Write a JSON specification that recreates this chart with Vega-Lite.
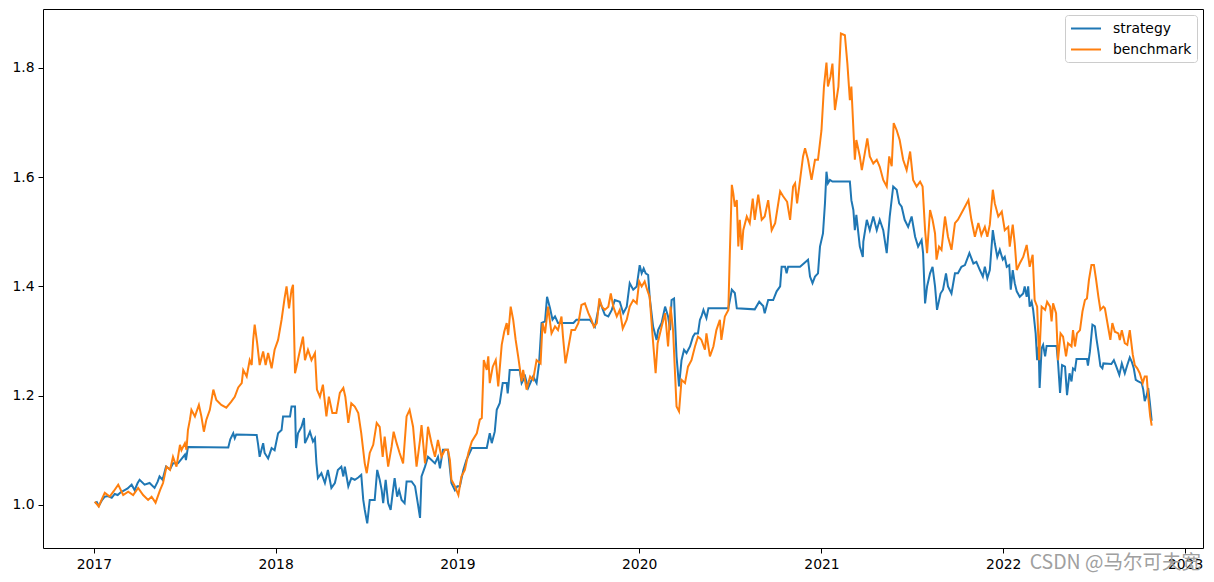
{
  "$schema": "https://vega.github.io/schema/vega-lite/v6.json",
  "width": 1160,
  "height": 539,
  "autosize": {"type": "none"},
  "padding": {"left": 43, "top": 9, "right": 11, "bottom": 34},
  "background": "white",
  "config": {
    "view": {"stroke": "black", "strokeWidth": 1},
    "font": "DejaVu Sans",
    "axis": {"domain": false, "grid": false, "tickColor": "black", "tickSize": 5, "tickWidth": 1, "labelColor": "black", "labelFont": "DejaVu Sans", "labelFontSize": 13.9, "labelPadding": 4, "title": null}
  },
  "title": {"text": "CSDN @马尔可夫宽", "orient": "bottom", "anchor": "end", "frame": "group", "offset": -17, "font": "Noto Sans CJK SC", "fontSize": 19.5, "fontWeight": "normal", "color": "#a0a0a0", "dx": -2},
  "data": {
    "format": {"parse": {"d": "date:'%Y-%j'"}},
    "values": [
{"d":"2017-003","s":"strategy","v":1.003},{"d":"2017-007","s":"strategy","v":1.005},{"d":"2017-011","s":"strategy","v":0.998},{"d":"2017-017","s":"strategy","v":1.008},{"d":"2017-023","s":"strategy","v":1.015},{"d":"2017-029","s":"strategy","v":1.016},{"d":"2017-037","s":"strategy","v":1.013},{"d":"2017-043","s":"strategy","v":1.02},{"d":"2017-049","s":"strategy","v":1.018},{"d":"2017-055","s":"strategy","v":1.023},{"d":"2017-063","s":"strategy","v":1.027},{"d":"2017-069","s":"strategy","v":1.03},{"d":"2017-077","s":"strategy","v":1.037},{"d":"2017-083","s":"strategy","v":1.027},{"d":"2017-089","s":"strategy","v":1.04},{"d":"2017-093","s":"strategy","v":1.046},{"d":"2017-103","s":"strategy","v":1.037},{"d":"2017-113","s":"strategy","v":1.04},{"d":"2017-123","s":"strategy","v":1.031},{"d":"2017-129","s":"strategy","v":1.042},{"d":"2017-133","s":"strategy","v":1.052},{"d":"2017-139","s":"strategy","v":1.046},{"d":"2017-146","s":"strategy","v":1.07},{"d":"2017-154","s":"strategy","v":1.065},{"d":"2017-160","s":"strategy","v":1.076},{"d":"2017-170","s":"strategy","v":1.076},{"d":"2017-178","s":"strategy","v":1.085},{"d":"2017-184","s":"strategy","v":1.092},{"d":"2017-186","s":"strategy","v":1.082},{"d":"2017-190","s":"strategy","v":1.106},{"d":"2017-271","s":"strategy","v":1.105},{"d":"2017-275","s":"strategy","v":1.12},{"d":"2017-281","s":"strategy","v":1.131},{"d":"2017-284","s":"strategy","v":1.122},{"d":"2017-287","s":"strategy","v":1.129},{"d":"2017-328","s":"strategy","v":1.128},{"d":"2017-331","s":"strategy","v":1.11},{"d":"2017-334","s":"strategy","v":1.088},{"d":"2017-341","s":"strategy","v":1.113},{"d":"2017-344","s":"strategy","v":1.095},{"d":"2017-351","s":"strategy","v":1.085},{"d":"2017-358","s":"strategy","v":1.104},{"d":"2017-364","s":"strategy","v":1.1},
{"d":"2018-006","s":"strategy","v":1.131},{"d":"2018-013","s":"strategy","v":1.137},{"d":"2018-016","s":"strategy","v":1.162},{"d":"2018-030","s":"strategy","v":1.162},{"d":"2018-033","s":"strategy","v":1.18},{"d":"2018-040","s":"strategy","v":1.18},{"d":"2018-042","s":"strategy","v":1.104},{"d":"2018-046","s":"strategy","v":1.131},{"d":"2018-053","s":"strategy","v":1.143},{"d":"2018-058","s":"strategy","v":1.159},{"d":"2018-060","s":"strategy","v":1.113},{"d":"2018-066","s":"strategy","v":1.125},{"d":"2018-070","s":"strategy","v":1.134},{"d":"2018-076","s":"strategy","v":1.116},{"d":"2018-080","s":"strategy","v":1.122},{"d":"2018-083","s":"strategy","v":1.076},{"d":"2018-086","s":"strategy","v":1.049},{"d":"2018-093","s":"strategy","v":1.058},{"d":"2018-100","s":"strategy","v":1.04},{"d":"2018-106","s":"strategy","v":1.064},{"d":"2018-113","s":"strategy","v":1.031},{"d":"2018-120","s":"strategy","v":1.04},{"d":"2018-126","s":"strategy","v":1.064},{"d":"2018-133","s":"strategy","v":1.07},{"d":"2018-137","s":"strategy","v":1.052},{"d":"2018-140","s":"strategy","v":1.07},{"d":"2018-147","s":"strategy","v":1.034},{"d":"2018-153","s":"strategy","v":1.049},{"d":"2018-160","s":"strategy","v":1.046},{"d":"2018-167","s":"strategy","v":1.05},{"d":"2018-173","s":"strategy","v":1.055},{"d":"2018-177","s":"strategy","v":1.009},{"d":"2018-180","s":"strategy","v":0.991},{"d":"2018-185","s":"strategy","v":0.966},{"d":"2018-190","s":"strategy","v":1.009},{"d":"2018-200","s":"strategy","v":1.009},{"d":"2018-205","s":"strategy","v":1.064},{"d":"2018-210","s":"strategy","v":1.046},{"d":"2018-214","s":"strategy","v":1.027},{"d":"2018-217","s":"strategy","v":1.003},{"d":"2018-222","s":"strategy","v":1.046},{"d":"2018-227","s":"strategy","v":1.003},{"d":"2018-232","s":"strategy","v":0.991},{"d":"2018-236","s":"strategy","v":1.021},{"d":"2018-240","s":"strategy","v":1.049},{"d":"2018-245","s":"strategy","v":1.015},{"d":"2018-249","s":"strategy","v":1.027},{"d":"2018-254","s":"strategy","v":1.009},{"d":"2018-260","s":"strategy","v":1.003},{"d":"2018-264","s":"strategy","v":1.043},{"d":"2018-274","s":"strategy","v":1.043},{"d":"2018-281","s":"strategy","v":1.034},{"d":"2018-287","s":"strategy","v":1.0},{"d":"2018-291","s":"strategy","v":0.976},{"d":"2018-294","s":"strategy","v":1.052},{"d":"2018-301","s":"strategy","v":1.07},{"d":"2018-307","s":"strategy","v":1.088},{"d":"2018-314","s":"strategy","v":1.082},{"d":"2018-321","s":"strategy","v":1.076},{"d":"2018-327","s":"strategy","v":1.088},{"d":"2018-331","s":"strategy","v":1.067},{"d":"2018-337","s":"strategy","v":1.101},{"d":"2018-347","s":"strategy","v":1.101},{"d":"2018-354","s":"strategy","v":1.04},{"d":"2018-361","s":"strategy","v":1.027},
{"d":"2019-001","s":"strategy","v":1.034},{"d":"2019-006","s":"strategy","v":1.034},{"d":"2019-013","s":"strategy","v":1.064},{"d":"2019-019","s":"strategy","v":1.082},{"d":"2019-030","s":"strategy","v":1.104},{"d":"2019-060","s":"strategy","v":1.104},{"d":"2019-066","s":"strategy","v":1.131},{"d":"2019-070","s":"strategy","v":1.113},{"d":"2019-076","s":"strategy","v":1.134},{"d":"2019-080","s":"strategy","v":1.174},{"d":"2019-086","s":"strategy","v":1.186},{"d":"2019-092","s":"strategy","v":1.223},{"d":"2019-100","s":"strategy","v":1.223},{"d":"2019-102","s":"strategy","v":1.204},{"d":"2019-104","s":"strategy","v":1.223},{"d":"2019-106","s":"strategy","v":1.247},{"d":"2019-126","s":"strategy","v":1.247},{"d":"2019-130","s":"strategy","v":1.223},{"d":"2019-137","s":"strategy","v":1.235},{"d":"2019-143","s":"strategy","v":1.214},{"d":"2019-153","s":"strategy","v":1.235},{"d":"2019-160","s":"strategy","v":1.223},{"d":"2019-165","s":"strategy","v":1.259},{"d":"2019-170","s":"strategy","v":1.333},{"d":"2019-177","s":"strategy","v":1.336},{"d":"2019-181","s":"strategy","v":1.381},{"d":"2019-187","s":"strategy","v":1.36},{"d":"2019-192","s":"strategy","v":1.339},{"d":"2019-197","s":"strategy","v":1.345},{"d":"2019-203","s":"strategy","v":1.333},{"d":"2019-234","s":"strategy","v":1.333},{"d":"2019-240","s":"strategy","v":1.339},{"d":"2019-267","s":"strategy","v":1.339},{"d":"2019-277","s":"strategy","v":1.326},{"d":"2019-287","s":"strategy","v":1.372},{"d":"2019-297","s":"strategy","v":1.348},{"d":"2019-304","s":"strategy","v":1.345},{"d":"2019-311","s":"strategy","v":1.357},{"d":"2019-317","s":"strategy","v":1.375},{"d":"2019-327","s":"strategy","v":1.372},{"d":"2019-334","s":"strategy","v":1.351},{"d":"2019-341","s":"strategy","v":1.363},{"d":"2019-347","s":"strategy","v":1.406},{"d":"2019-354","s":"strategy","v":1.394},{"d":"2019-361","s":"strategy","v":1.4},
{"d":"2020-002","s":"strategy","v":1.439},{"d":"2020-006","s":"strategy","v":1.424},{"d":"2020-010","s":"strategy","v":1.433},{"d":"2020-014","s":"strategy","v":1.424},{"d":"2020-019","s":"strategy","v":1.421},{"d":"2020-022","s":"strategy","v":1.381},{"d":"2020-029","s":"strategy","v":1.326},{"d":"2020-036","s":"strategy","v":1.302},{"d":"2020-039","s":"strategy","v":1.32},{"d":"2020-046","s":"strategy","v":1.333},{"d":"2020-053","s":"strategy","v":1.363},{"d":"2020-059","s":"strategy","v":1.345},{"d":"2020-063","s":"strategy","v":1.32},{"d":"2020-066","s":"strategy","v":1.375},{"d":"2020-071","s":"strategy","v":1.378},{"d":"2020-076","s":"strategy","v":1.272},{"d":"2020-081","s":"strategy","v":1.217},{"d":"2020-086","s":"strategy","v":1.265},{"d":"2020-091","s":"strategy","v":1.284},{"d":"2020-096","s":"strategy","v":1.278},{"d":"2020-103","s":"strategy","v":1.29},{"d":"2020-109","s":"strategy","v":1.308},{"d":"2020-113","s":"strategy","v":1.314},{"d":"2020-119","s":"strategy","v":1.314},{"d":"2020-123","s":"strategy","v":1.339},{"d":"2020-126","s":"strategy","v":1.345},{"d":"2020-130","s":"strategy","v":1.357},{"d":"2020-136","s":"strategy","v":1.342},{"d":"2020-140","s":"strategy","v":1.36},{"d":"2020-180","s":"strategy","v":1.36},{"d":"2020-187","s":"strategy","v":1.394},{"d":"2020-193","s":"strategy","v":1.388},{"d":"2020-197","s":"strategy","v":1.36},{"d":"2020-233","s":"strategy","v":1.358},{"d":"2020-242","s":"strategy","v":1.372},{"d":"2020-250","s":"strategy","v":1.364},{"d":"2020-253","s":"strategy","v":1.351},{"d":"2020-260","s":"strategy","v":1.375},{"d":"2020-270","s":"strategy","v":1.375},{"d":"2020-277","s":"strategy","v":1.391},{"d":"2020-284","s":"strategy","v":1.4},{"d":"2020-287","s":"strategy","v":1.436},{"d":"2020-294","s":"strategy","v":1.436},{"d":"2020-297","s":"strategy","v":1.424},{"d":"2020-300","s":"strategy","v":1.436},{"d":"2020-324","s":"strategy","v":1.436},{"d":"2020-340","s":"strategy","v":1.449},{"d":"2020-344","s":"strategy","v":1.418},{"d":"2020-349","s":"strategy","v":1.406},{"d":"2020-354","s":"strategy","v":1.418},{"d":"2020-360","s":"strategy","v":1.424},{"d":"2020-364","s":"strategy","v":1.473},
{"d":"2021-004","s":"strategy","v":1.497},{"d":"2021-008","s":"strategy","v":1.552},{"d":"2021-011","s":"strategy","v":1.61},{"d":"2021-014","s":"strategy","v":1.589},{"d":"2021-018","s":"strategy","v":1.595},{"d":"2021-023","s":"strategy","v":1.592},{"d":"2021-058","s":"strategy","v":1.592},{"d":"2021-061","s":"strategy","v":1.558},{"d":"2021-065","s":"strategy","v":1.54},{"d":"2021-068","s":"strategy","v":1.503},{"d":"2021-071","s":"strategy","v":1.531},{"d":"2021-078","s":"strategy","v":1.473},{"d":"2021-084","s":"strategy","v":1.454},{"d":"2021-085","s":"strategy","v":1.482},{"d":"2021-092","s":"strategy","v":1.522},{"d":"2021-098","s":"strategy","v":1.503},{"d":"2021-105","s":"strategy","v":1.528},{"d":"2021-112","s":"strategy","v":1.503},{"d":"2021-118","s":"strategy","v":1.522},{"d":"2021-125","s":"strategy","v":1.503},{"d":"2021-132","s":"strategy","v":1.461},{"d":"2021-138","s":"strategy","v":1.528},{"d":"2021-145","s":"strategy","v":1.583},{"d":"2021-152","s":"strategy","v":1.577},{"d":"2021-157","s":"strategy","v":1.552},{"d":"2021-162","s":"strategy","v":1.546},{"d":"2021-168","s":"strategy","v":1.522},{"d":"2021-175","s":"strategy","v":1.509},{"d":"2021-182","s":"strategy","v":1.528},{"d":"2021-189","s":"strategy","v":1.491},{"d":"2021-195","s":"strategy","v":1.473},{"d":"2021-202","s":"strategy","v":1.485},{"d":"2021-205","s":"strategy","v":1.461},{"d":"2021-209","s":"strategy","v":1.369},{"d":"2021-213","s":"strategy","v":1.4},{"d":"2021-219","s":"strategy","v":1.424},{"d":"2021-224","s":"strategy","v":1.436},{"d":"2021-229","s":"strategy","v":1.4},{"d":"2021-233","s":"strategy","v":1.357},{"d":"2021-240","s":"strategy","v":1.387},{"d":"2021-245","s":"strategy","v":1.394},{"d":"2021-251","s":"strategy","v":1.424},{"d":"2021-255","s":"strategy","v":1.4},{"d":"2021-262","s":"strategy","v":1.387},{"d":"2021-269","s":"strategy","v":1.424},{"d":"2021-275","s":"strategy","v":1.424},{"d":"2021-282","s":"strategy","v":1.436},{"d":"2021-289","s":"strategy","v":1.439},{"d":"2021-298","s":"strategy","v":1.461},{"d":"2021-306","s":"strategy","v":1.442},{"d":"2021-312","s":"strategy","v":1.445},{"d":"2021-319","s":"strategy","v":1.43},{"d":"2021-325","s":"strategy","v":1.418},{"d":"2021-329","s":"strategy","v":1.436},{"d":"2021-334","s":"strategy","v":1.415},{"d":"2021-339","s":"strategy","v":1.43},{"d":"2021-345","s":"strategy","v":1.503},{"d":"2021-349","s":"strategy","v":1.479},{"d":"2021-354","s":"strategy","v":1.454},{"d":"2021-359","s":"strategy","v":1.467},{"d":"2021-365","s":"strategy","v":1.449},
{"d":"2022-004","s":"strategy","v":1.454},{"d":"2022-008","s":"strategy","v":1.436},{"d":"2022-013","s":"strategy","v":1.439},{"d":"2022-016","s":"strategy","v":1.394},{"d":"2022-020","s":"strategy","v":1.43},{"d":"2022-024","s":"strategy","v":1.406},{"d":"2022-028","s":"strategy","v":1.391},{"d":"2022-034","s":"strategy","v":1.381},{"d":"2022-041","s":"strategy","v":1.387},{"d":"2022-044","s":"strategy","v":1.4},{"d":"2022-048","s":"strategy","v":1.381},{"d":"2022-051","s":"strategy","v":1.4},{"d":"2022-054","s":"strategy","v":1.363},{"d":"2022-058","s":"strategy","v":1.372},{"d":"2022-061","s":"strategy","v":1.357},{"d":"2022-066","s":"strategy","v":1.314},{"d":"2022-069","s":"strategy","v":1.265},{"d":"2022-072","s":"strategy","v":1.29},{"d":"2022-074","s":"strategy","v":1.214},{"d":"2022-078","s":"strategy","v":1.287},{"d":"2022-081","s":"strategy","v":1.293},{"d":"2022-085","s":"strategy","v":1.272},{"d":"2022-088","s":"strategy","v":1.291},{"d":"2022-108","s":"strategy","v":1.291},{"d":"2022-111","s":"strategy","v":1.26},{"d":"2022-115","s":"strategy","v":1.205},{"d":"2022-119","s":"strategy","v":1.256},{"d":"2022-125","s":"strategy","v":1.253},{"d":"2022-129","s":"strategy","v":1.201},{"d":"2022-134","s":"strategy","v":1.241},{"d":"2022-138","s":"strategy","v":1.226},{"d":"2022-141","s":"strategy","v":1.25},{"d":"2022-145","s":"strategy","v":1.247},{"d":"2022-148","s":"strategy","v":1.267},{"d":"2022-169","s":"strategy","v":1.267},{"d":"2022-171","s":"strategy","v":1.255},{"d":"2022-175","s":"strategy","v":1.281},{"d":"2022-180","s":"strategy","v":1.33},{"d":"2022-185","s":"strategy","v":1.327},{"d":"2022-188","s":"strategy","v":1.305},{"d":"2022-192","s":"strategy","v":1.281},{"d":"2022-196","s":"strategy","v":1.254},{"d":"2022-200","s":"strategy","v":1.25},{"d":"2022-202","s":"strategy","v":1.259},{"d":"2022-218","s":"strategy","v":1.258},{"d":"2022-223","s":"strategy","v":1.265},{"d":"2022-228","s":"strategy","v":1.253},{"d":"2022-234","s":"strategy","v":1.238},{"d":"2022-239","s":"strategy","v":1.259},{"d":"2022-245","s":"strategy","v":1.241},{"d":"2022-250","s":"strategy","v":1.256},{"d":"2022-255","s":"strategy","v":1.27},{"d":"2022-259","s":"strategy","v":1.262},{"d":"2022-263","s":"strategy","v":1.25},{"d":"2022-267","s":"strategy","v":1.229},{"d":"2022-272","s":"strategy","v":1.226},{"d":"2022-279","s":"strategy","v":1.223},{"d":"2022-282","s":"strategy","v":1.211},{"d":"2022-285","s":"strategy","v":1.19},{"d":"2022-289","s":"strategy","v":1.201},{"d":"2022-292","s":"strategy","v":1.214},{"d":"2022-295","s":"strategy","v":1.19},{"d":"2022-299","s":"strategy","v":1.154},
{"d":"2017-003","s":"benchmark","v":1.006},{"d":"2017-011","s":"benchmark","v":0.997},{"d":"2017-017","s":"benchmark","v":1.01},{"d":"2017-023","s":"benchmark","v":1.022},{"d":"2017-033","s":"benchmark","v":1.015},{"d":"2017-041","s":"benchmark","v":1.025},{"d":"2017-050","s":"benchmark","v":1.037},{"d":"2017-060","s":"benchmark","v":1.018},{"d":"2017-070","s":"benchmark","v":1.024},{"d":"2017-080","s":"benchmark","v":1.018},{"d":"2017-090","s":"benchmark","v":1.031},{"d":"2017-100","s":"benchmark","v":1.018},{"d":"2017-110","s":"benchmark","v":1.009},{"d":"2017-117","s":"benchmark","v":1.015},{"d":"2017-125","s":"benchmark","v":1.004},{"d":"2017-134","s":"benchmark","v":1.027},{"d":"2017-140","s":"benchmark","v":1.04},{"d":"2017-147","s":"benchmark","v":1.07},{"d":"2017-154","s":"benchmark","v":1.064},{"d":"2017-160","s":"benchmark","v":1.088},{"d":"2017-167","s":"benchmark","v":1.07},{"d":"2017-174","s":"benchmark","v":1.11},{"d":"2017-177","s":"benchmark","v":1.1},{"d":"2017-184","s":"benchmark","v":1.113},{"d":"2017-187","s":"benchmark","v":1.101},{"d":"2017-190","s":"benchmark","v":1.137},{"d":"2017-194","s":"benchmark","v":1.156},{"d":"2017-197","s":"benchmark","v":1.174},{"d":"2017-204","s":"benchmark","v":1.162},{"d":"2017-212","s":"benchmark","v":1.183},{"d":"2017-217","s":"benchmark","v":1.162},{"d":"2017-222","s":"benchmark","v":1.134},{"d":"2017-227","s":"benchmark","v":1.156},{"d":"2017-234","s":"benchmark","v":1.174},{"d":"2017-241","s":"benchmark","v":1.211},{"d":"2017-247","s":"benchmark","v":1.192},{"d":"2017-257","s":"benchmark","v":1.183},{"d":"2017-267","s":"benchmark","v":1.178},{"d":"2017-277","s":"benchmark","v":1.189},{"d":"2017-284","s":"benchmark","v":1.198},{"d":"2017-291","s":"benchmark","v":1.215},{"d":"2017-298","s":"benchmark","v":1.223},{"d":"2017-301","s":"benchmark","v":1.247},{"d":"2017-308","s":"benchmark","v":1.235},{"d":"2017-314","s":"benchmark","v":1.265},{"d":"2017-318","s":"benchmark","v":1.256},{"d":"2017-321","s":"benchmark","v":1.302},{"d":"2017-324","s":"benchmark","v":1.33},{"d":"2017-329","s":"benchmark","v":1.296},{"d":"2017-334","s":"benchmark","v":1.256},{"d":"2017-341","s":"benchmark","v":1.281},{"d":"2017-346","s":"benchmark","v":1.256},{"d":"2017-351","s":"benchmark","v":1.278},{"d":"2017-358","s":"benchmark","v":1.25},{"d":"2017-364","s":"benchmark","v":1.284},
{"d":"2018-006","s":"benchmark","v":1.302},{"d":"2018-013","s":"benchmark","v":1.339},{"d":"2018-019","s":"benchmark","v":1.378},{"d":"2018-023","s":"benchmark","v":1.4},{"d":"2018-028","s":"benchmark","v":1.36},{"d":"2018-033","s":"benchmark","v":1.394},{"d":"2018-036","s":"benchmark","v":1.403},{"d":"2018-040","s":"benchmark","v":1.241},{"d":"2018-043","s":"benchmark","v":1.253},{"d":"2018-048","s":"benchmark","v":1.275},{"d":"2018-056","s":"benchmark","v":1.308},{"d":"2018-060","s":"benchmark","v":1.265},{"d":"2018-066","s":"benchmark","v":1.284},{"d":"2018-073","s":"benchmark","v":1.265},{"d":"2018-080","s":"benchmark","v":1.278},{"d":"2018-084","s":"benchmark","v":1.211},{"d":"2018-090","s":"benchmark","v":1.198},{"d":"2018-096","s":"benchmark","v":1.22},{"d":"2018-103","s":"benchmark","v":1.162},{"d":"2018-108","s":"benchmark","v":1.198},{"d":"2018-115","s":"benchmark","v":1.168},{"d":"2018-123","s":"benchmark","v":1.168},{"d":"2018-130","s":"benchmark","v":1.205},{"d":"2018-137","s":"benchmark","v":1.214},{"d":"2018-141","s":"benchmark","v":1.198},{"d":"2018-147","s":"benchmark","v":1.15},{"d":"2018-153","s":"benchmark","v":1.186},{"d":"2018-160","s":"benchmark","v":1.18},{"d":"2018-167","s":"benchmark","v":1.168},{"d":"2018-173","s":"benchmark","v":1.131},{"d":"2018-180","s":"benchmark","v":1.076},{"d":"2018-184","s":"benchmark","v":1.058},{"d":"2018-190","s":"benchmark","v":1.095},{"d":"2018-197","s":"benchmark","v":1.11},{"d":"2018-204","s":"benchmark","v":1.15},{"d":"2018-210","s":"benchmark","v":1.143},{"d":"2018-216","s":"benchmark","v":1.088},{"d":"2018-220","s":"benchmark","v":1.125},{"d":"2018-227","s":"benchmark","v":1.07},{"d":"2018-234","s":"benchmark","v":1.107},{"d":"2018-238","s":"benchmark","v":1.134},{"d":"2018-244","s":"benchmark","v":1.113},{"d":"2018-250","s":"benchmark","v":1.095},{"d":"2018-257","s":"benchmark","v":1.076},{"d":"2018-264","s":"benchmark","v":1.162},{"d":"2018-270","s":"benchmark","v":1.174},{"d":"2018-277","s":"benchmark","v":1.143},{"d":"2018-284","s":"benchmark","v":1.07},{"d":"2018-291","s":"benchmark","v":1.119},{"d":"2018-294","s":"benchmark","v":1.146},{"d":"2018-301","s":"benchmark","v":1.076},{"d":"2018-307","s":"benchmark","v":1.143},{"d":"2018-314","s":"benchmark","v":1.113},{"d":"2018-321","s":"benchmark","v":1.088},{"d":"2018-327","s":"benchmark","v":1.119},{"d":"2018-334","s":"benchmark","v":1.088},{"d":"2018-341","s":"benchmark","v":1.101},{"d":"2018-347","s":"benchmark","v":1.101},{"d":"2018-351","s":"benchmark","v":1.082},{"d":"2018-354","s":"benchmark","v":1.046},{"d":"2018-361","s":"benchmark","v":1.034},
{"d":"2019-003","s":"benchmark","v":1.018},{"d":"2019-009","s":"benchmark","v":1.052},{"d":"2019-016","s":"benchmark","v":1.064},{"d":"2019-023","s":"benchmark","v":1.095},{"d":"2019-030","s":"benchmark","v":1.116},{"d":"2019-040","s":"benchmark","v":1.131},{"d":"2019-046","s":"benchmark","v":1.156},{"d":"2019-050","s":"benchmark","v":1.159},{"d":"2019-054","s":"benchmark","v":1.265},{"d":"2019-060","s":"benchmark","v":1.247},{"d":"2019-063","s":"benchmark","v":1.272},{"d":"2019-066","s":"benchmark","v":1.223},{"d":"2019-072","s":"benchmark","v":1.253},{"d":"2019-078","s":"benchmark","v":1.265},{"d":"2019-083","s":"benchmark","v":1.217},{"d":"2019-090","s":"benchmark","v":1.293},{"d":"2019-095","s":"benchmark","v":1.317},{"d":"2019-100","s":"benchmark","v":1.333},{"d":"2019-103","s":"benchmark","v":1.311},{"d":"2019-108","s":"benchmark","v":1.363},{"d":"2019-113","s":"benchmark","v":1.339},{"d":"2019-118","s":"benchmark","v":1.302},{"d":"2019-123","s":"benchmark","v":1.272},{"d":"2019-130","s":"benchmark","v":1.226},{"d":"2019-133","s":"benchmark","v":1.247},{"d":"2019-140","s":"benchmark","v":1.211},{"d":"2019-147","s":"benchmark","v":1.235},{"d":"2019-153","s":"benchmark","v":1.229},{"d":"2019-160","s":"benchmark","v":1.265},{"d":"2019-168","s":"benchmark","v":1.259},{"d":"2019-172","s":"benchmark","v":1.333},{"d":"2019-177","s":"benchmark","v":1.314},{"d":"2019-183","s":"benchmark","v":1.363},{"d":"2019-190","s":"benchmark","v":1.314},{"d":"2019-197","s":"benchmark","v":1.327},{"d":"2019-203","s":"benchmark","v":1.32},{"d":"2019-210","s":"benchmark","v":1.345},{"d":"2019-213","s":"benchmark","v":1.308},{"d":"2019-218","s":"benchmark","v":1.259},{"d":"2019-223","s":"benchmark","v":1.284},{"d":"2019-230","s":"benchmark","v":1.32},{"d":"2019-237","s":"benchmark","v":1.32},{"d":"2019-244","s":"benchmark","v":1.333},{"d":"2019-250","s":"benchmark","v":1.366},{"d":"2019-257","s":"benchmark","v":1.369},{"d":"2019-264","s":"benchmark","v":1.351},{"d":"2019-270","s":"benchmark","v":1.339},{"d":"2019-275","s":"benchmark","v":1.326},{"d":"2019-281","s":"benchmark","v":1.333},{"d":"2019-286","s":"benchmark","v":1.378},{"d":"2019-291","s":"benchmark","v":1.363},{"d":"2019-297","s":"benchmark","v":1.357},{"d":"2019-304","s":"benchmark","v":1.363},{"d":"2019-309","s":"benchmark","v":1.387},{"d":"2019-314","s":"benchmark","v":1.363},{"d":"2019-321","s":"benchmark","v":1.345},{"d":"2019-327","s":"benchmark","v":1.357},{"d":"2019-333","s":"benchmark","v":1.323},{"d":"2019-341","s":"benchmark","v":1.339},{"d":"2019-347","s":"benchmark","v":1.363},{"d":"2019-354","s":"benchmark","v":1.375},{"d":"2019-361","s":"benchmark","v":1.369},
{"d":"2020-001","s":"benchmark","v":1.409},{"d":"2020-006","s":"benchmark","v":1.4},{"d":"2020-012","s":"benchmark","v":1.409},{"d":"2020-017","s":"benchmark","v":1.394},{"d":"2020-022","s":"benchmark","v":1.381},{"d":"2020-028","s":"benchmark","v":1.308},{"d":"2020-034","s":"benchmark","v":1.241},{"d":"2020-038","s":"benchmark","v":1.296},{"d":"2020-046","s":"benchmark","v":1.326},{"d":"2020-053","s":"benchmark","v":1.351},{"d":"2020-059","s":"benchmark","v":1.29},{"d":"2020-064","s":"benchmark","v":1.363},{"d":"2020-069","s":"benchmark","v":1.32},{"d":"2020-076","s":"benchmark","v":1.18},{"d":"2020-081","s":"benchmark","v":1.171},{"d":"2020-086","s":"benchmark","v":1.229},{"d":"2020-093","s":"benchmark","v":1.223},{"d":"2020-099","s":"benchmark","v":1.253},{"d":"2020-106","s":"benchmark","v":1.265},{"d":"2020-113","s":"benchmark","v":1.29},{"d":"2020-119","s":"benchmark","v":1.308},{"d":"2020-123","s":"benchmark","v":1.305},{"d":"2020-126","s":"benchmark","v":1.302},{"d":"2020-133","s":"benchmark","v":1.284},{"d":"2020-136","s":"benchmark","v":1.314},{"d":"2020-143","s":"benchmark","v":1.272},{"d":"2020-150","s":"benchmark","v":1.29},{"d":"2020-156","s":"benchmark","v":1.32},{"d":"2020-163","s":"benchmark","v":1.339},{"d":"2020-166","s":"benchmark","v":1.302},{"d":"2020-173","s":"benchmark","v":1.345},{"d":"2020-180","s":"benchmark","v":1.357},{"d":"2020-183","s":"benchmark","v":1.461},{"d":"2020-187","s":"benchmark","v":1.586},{"d":"2020-190","s":"benchmark","v":1.57},{"d":"2020-193","s":"benchmark","v":1.546},{"d":"2020-197","s":"benchmark","v":1.558},{"d":"2020-200","s":"benchmark","v":1.473},{"d":"2020-203","s":"benchmark","v":1.522},{"d":"2020-207","s":"benchmark","v":1.467},{"d":"2020-210","s":"benchmark","v":1.503},{"d":"2020-217","s":"benchmark","v":1.528},{"d":"2020-223","s":"benchmark","v":1.516},{"d":"2020-229","s":"benchmark","v":1.561},{"d":"2020-233","s":"benchmark","v":1.522},{"d":"2020-240","s":"benchmark","v":1.568},{"d":"2020-247","s":"benchmark","v":1.522},{"d":"2020-253","s":"benchmark","v":1.528},{"d":"2020-260","s":"benchmark","v":1.558},{"d":"2020-267","s":"benchmark","v":1.503},{"d":"2020-274","s":"benchmark","v":1.516},{"d":"2020-284","s":"benchmark","v":1.574},{"d":"2020-290","s":"benchmark","v":1.565},{"d":"2020-298","s":"benchmark","v":1.555},{"d":"2020-304","s":"benchmark","v":1.522},{"d":"2020-310","s":"benchmark","v":1.583},{"d":"2020-314","s":"benchmark","v":1.589},{"d":"2020-318","s":"benchmark","v":1.552},{"d":"2020-324","s":"benchmark","v":1.595},{"d":"2020-330","s":"benchmark","v":1.638},{"d":"2020-334","s":"benchmark","v":1.653},{"d":"2020-340","s":"benchmark","v":1.632},{"d":"2020-347","s":"benchmark","v":1.595},{"d":"2020-354","s":"benchmark","v":1.632},{"d":"2020-360","s":"benchmark","v":1.632},
{"d":"2021-001","s":"benchmark","v":1.686},{"d":"2021-006","s":"benchmark","v":1.766},{"d":"2021-011","s":"benchmark","v":1.81},{"d":"2021-014","s":"benchmark","v":1.766},{"d":"2021-019","s":"benchmark","v":1.784},{"d":"2021-023","s":"benchmark","v":1.808},{"d":"2021-028","s":"benchmark","v":1.723},{"d":"2021-035","s":"benchmark","v":1.766},{"d":"2021-040","s":"benchmark","v":1.863},{"d":"2021-048","s":"benchmark","v":1.86},{"d":"2021-053","s":"benchmark","v":1.808},{"d":"2021-058","s":"benchmark","v":1.741},{"d":"2021-061","s":"benchmark","v":1.766},{"d":"2021-068","s":"benchmark","v":1.632},{"d":"2021-071","s":"benchmark","v":1.668},{"d":"2021-078","s":"benchmark","v":1.638},{"d":"2021-082","s":"benchmark","v":1.613},{"d":"2021-088","s":"benchmark","v":1.644},{"d":"2021-093","s":"benchmark","v":1.671},{"d":"2021-098","s":"benchmark","v":1.638},{"d":"2021-105","s":"benchmark","v":1.625},{"d":"2021-112","s":"benchmark","v":1.632},{"d":"2021-118","s":"benchmark","v":1.619},{"d":"2021-125","s":"benchmark","v":1.595},{"d":"2021-132","s":"benchmark","v":1.583},{"d":"2021-137","s":"benchmark","v":1.638},{"d":"2021-142","s":"benchmark","v":1.62},{"d":"2021-146","s":"benchmark","v":1.699},{"d":"2021-152","s":"benchmark","v":1.686},{"d":"2021-158","s":"benchmark","v":1.668},{"d":"2021-165","s":"benchmark","v":1.632},{"d":"2021-172","s":"benchmark","v":1.613},{"d":"2021-179","s":"benchmark","v":1.647},{"d":"2021-185","s":"benchmark","v":1.595},{"d":"2021-192","s":"benchmark","v":1.583},{"d":"2021-199","s":"benchmark","v":1.592},{"d":"2021-204","s":"benchmark","v":1.583},{"d":"2021-209","s":"benchmark","v":1.503},{"d":"2021-213","s":"benchmark","v":1.461},{"d":"2021-219","s":"benchmark","v":1.54},{"d":"2021-224","s":"benchmark","v":1.522},{"d":"2021-229","s":"benchmark","v":1.497},{"d":"2021-232","s":"benchmark","v":1.449},{"d":"2021-237","s":"benchmark","v":1.473},{"d":"2021-242","s":"benchmark","v":1.467},{"d":"2021-249","s":"benchmark","v":1.528},{"d":"2021-255","s":"benchmark","v":1.491},{"d":"2021-262","s":"benchmark","v":1.467},{"d":"2021-269","s":"benchmark","v":1.516},{"d":"2021-275","s":"benchmark","v":1.522},{"d":"2021-282","s":"benchmark","v":1.534},{"d":"2021-289","s":"benchmark","v":1.546},{"d":"2021-296","s":"benchmark","v":1.558},{"d":"2021-302","s":"benchmark","v":1.522},{"d":"2021-309","s":"benchmark","v":1.491},{"d":"2021-316","s":"benchmark","v":1.516},{"d":"2021-322","s":"benchmark","v":1.494},{"d":"2021-329","s":"benchmark","v":1.509},{"d":"2021-334","s":"benchmark","v":1.491},{"d":"2021-339","s":"benchmark","v":1.513},{"d":"2021-345","s":"benchmark","v":1.577},{"d":"2021-349","s":"benchmark","v":1.552},{"d":"2021-356","s":"benchmark","v":1.528},{"d":"2021-363","s":"benchmark","v":1.537},
{"d":"2022-004","s":"benchmark","v":1.503},{"d":"2022-011","s":"benchmark","v":1.509},{"d":"2022-014","s":"benchmark","v":1.473},{"d":"2022-020","s":"benchmark","v":1.513},{"d":"2022-024","s":"benchmark","v":1.479},{"d":"2022-028","s":"benchmark","v":1.43},{"d":"2022-034","s":"benchmark","v":1.442},{"d":"2022-041","s":"benchmark","v":1.454},{"d":"2022-048","s":"benchmark","v":1.476},{"d":"2022-054","s":"benchmark","v":1.436},{"d":"2022-060","s":"benchmark","v":1.458},{"d":"2022-064","s":"benchmark","v":1.375},{"d":"2022-069","s":"benchmark","v":1.363},{"d":"2022-073","s":"benchmark","v":1.265},{"d":"2022-078","s":"benchmark","v":1.363},{"d":"2022-085","s":"benchmark","v":1.357},{"d":"2022-089","s":"benchmark","v":1.372},{"d":"2022-095","s":"benchmark","v":1.363},{"d":"2022-098","s":"benchmark","v":1.336},{"d":"2022-101","s":"benchmark","v":1.369},{"d":"2022-107","s":"benchmark","v":1.351},{"d":"2022-111","s":"benchmark","v":1.265},{"d":"2022-116","s":"benchmark","v":1.314},{"d":"2022-121","s":"benchmark","v":1.308},{"d":"2022-127","s":"benchmark","v":1.272},{"d":"2022-131","s":"benchmark","v":1.296},{"d":"2022-138","s":"benchmark","v":1.29},{"d":"2022-141","s":"benchmark","v":1.32},{"d":"2022-145","s":"benchmark","v":1.29},{"d":"2022-149","s":"benchmark","v":1.314},{"d":"2022-155","s":"benchmark","v":1.32},{"d":"2022-160","s":"benchmark","v":1.354},{"d":"2022-165","s":"benchmark","v":1.375},{"d":"2022-169","s":"benchmark","v":1.378},{"d":"2022-173","s":"benchmark","v":1.412},{"d":"2022-178","s":"benchmark","v":1.439},{"d":"2022-183","s":"benchmark","v":1.439},{"d":"2022-187","s":"benchmark","v":1.415},{"d":"2022-192","s":"benchmark","v":1.381},{"d":"2022-196","s":"benchmark","v":1.357},{"d":"2022-202","s":"benchmark","v":1.363},{"d":"2022-205","s":"benchmark","v":1.36},{"d":"2022-212","s":"benchmark","v":1.323},{"d":"2022-216","s":"benchmark","v":1.302},{"d":"2022-220","s":"benchmark","v":1.333},{"d":"2022-225","s":"benchmark","v":1.317},{"d":"2022-232","s":"benchmark","v":1.314},{"d":"2022-235","s":"benchmark","v":1.302},{"d":"2022-239","s":"benchmark","v":1.32},{"d":"2022-245","s":"benchmark","v":1.296},{"d":"2022-250","s":"benchmark","v":1.293},{"d":"2022-255","s":"benchmark","v":1.32},{"d":"2022-261","s":"benchmark","v":1.275},{"d":"2022-265","s":"benchmark","v":1.256},{"d":"2022-270","s":"benchmark","v":1.25},{"d":"2022-275","s":"benchmark","v":1.241},{"d":"2022-281","s":"benchmark","v":1.223},{"d":"2022-285","s":"benchmark","v":1.235},{"d":"2022-289","s":"benchmark","v":1.235},{"d":"2022-292","s":"benchmark","v":1.198},{"d":"2022-296","s":"benchmark","v":1.162},{"d":"2022-299","s":"benchmark","v":1.145}
    ]
  },
  "encoding": {
    "x": {"field": "d", "type": "temporal", "scale": {"domain": [{"year": 2016, "month": 9, "date": 21}, {"year": 2023, "month": 2, "date": 6}], "nice": false},
      "axis": {"format": "%Y", "values": [{"year": 2017}, {"year": 2018}, {"year": 2019}, {"year": 2020}, {"year": 2021}, {"year": 2022}, {"year": 2023}]}},
    "y": {"field": "v", "type": "quantitative", "scale": {"domain": [0.921, 1.908], "zero": false, "nice": false},
      "axis": {"values": [1.0, 1.2, 1.4, 1.6, 1.8], "format": ".1f"}},
    "color": {"field": "s", "type": "nominal", "scale": {"domain": ["strategy", "benchmark"], "range": ["#1f77b4", "#ff7f0e"]},
      "legend": {"title": null, "orient": "top-right", "offset": 6, "fillColor": "rgba(255,255,255,0.8)", "strokeColor": "#cccccc", "cornerRadius": 3, "padding": 5, "symbolType": "M-1,0H3", "symbolSize": 225, "symbolStrokeWidth": 2, "labelFont": "DejaVu Sans", "labelFontSize": 13.9, "labelColor": "black", "labelOffset": 26, "rowPadding": 5}}
  },
  "layer": [
    {"transform": [{"filter": "datum.s === 'strategy'"}], "mark": {"type": "line", "strokeWidth": 2, "interpolate": "linear"}},
    {"transform": [{"filter": "datum.s === 'benchmark'"}], "mark": {"type": "line", "strokeWidth": 2, "interpolate": "linear"}}
  ]
}
